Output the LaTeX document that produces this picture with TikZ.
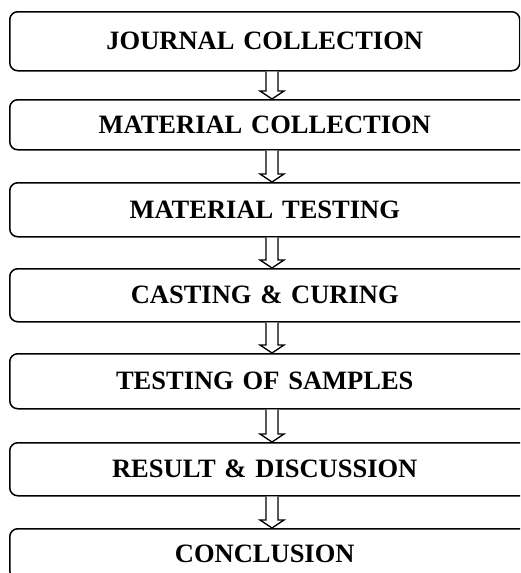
\documentclass[tikz,border=0pt]{standalone}
\usepackage{fontspec}
\setmainfont{Liberation Serif}
\usetikzlibrary{calc}

\tikzset{
  stagebox/.style={draw, line width=1.5pt, rounded corners=8pt, anchor=north west,
    inner xsep=0pt, inner ysep=0pt, text width=#1, align=left,
    font=\fontsize{26.5}{30}\selectfont\bfseries},
  hollowarrow/.style={draw, line width=1.3pt, fill=white, line join=miter}
}
\newcommand{\stagetext}[1]{\noindent\makebox[510pt]{#1}}
\newcommand{\blockarrow}[2]{%
  \draw[hollowarrow] ($(#1.south -| axis)+(-6,0)$) -- ($(#2.north -| axis)+(-6,-8)$)
    -- ($(#2.north -| axis)+(-12,-8)$) -- (#2.north -| axis)
    -- ($(#2.north -| axis)+(12,-8)$) -- ($(#2.north -| axis)+(6,-8)$)
    -- ($(#1.south -| axis)+(6,0)$);}

\begin{document}
\begin{tikzpicture}[x=1pt, y=-1pt]
    \useasboundingbox (0,0) rectangle (520,573);
    \clip (0,0) rectangle (520,573);

    \coordinate (axis) at (272,0);

    % stages
    \node[stagebox=510pt, minimum height=59pt] (journal) at (9,11) {\stagetext{JOURNAL COLLECTION}};
    \node[stagebox=540pt, minimum height=50pt] (matcoll) at (9,99) {\stagetext{MATERIAL COLLECTION}};
    \node[stagebox=540pt, minimum height=54pt] (mattest) at (9,182) {\stagetext{MATERIAL TESTING}};
    \node[stagebox=540pt, minimum height=53pt] (casting) at (9,268) {\stagetext{CASTING \& CURING}};
    \node[stagebox=540pt, minimum height=55pt] (samples) at (9,353) {\stagetext{TESTING OF SAMPLES}};
    \node[stagebox=540pt, minimum height=53pt] (result) at (9,442) {\stagetext{RESULT \& DISCUSSION}};
    \node[stagebox=540pt, minimum height=50pt] (conclusion) at (9,528) {\stagetext{CONCLUSION}};

    % arrows between stages
    \blockarrow{journal}{matcoll}
    \blockarrow{matcoll}{mattest}
    \blockarrow{mattest}{casting}
    \blockarrow{casting}{samples}
    \blockarrow{samples}{result}
    \blockarrow{result}{conclusion}
\end{tikzpicture}
\end{document}
